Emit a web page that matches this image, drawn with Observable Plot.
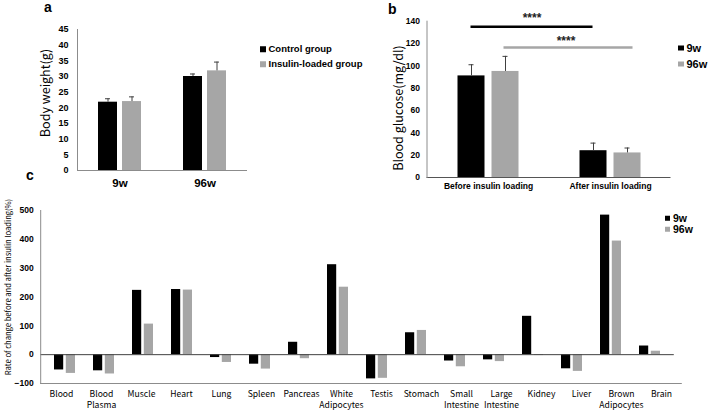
<!DOCTYPE html>
<html><head><meta charset="utf-8">
<script src="https://cdn.jsdelivr.net/npm/d3@7"></script>
<script src="https://cdn.jsdelivr.net/npm/@observablehq/plot@0.6"></script>
<style>
body{margin:0;background:#fff;}
#root{position:relative;width:708px;height:411px;overflow:hidden;background:#fff;font-family:"Liberation Sans",Arial,sans-serif;color:#000;}
.plot{position:absolute;}
.lbl{position:absolute;font-weight:bold;font-size:14px;line-height:1;}
.leg{position:absolute;display:flex;align-items:center;white-space:nowrap;font-weight:bold;line-height:1;transform:translateY(-50%);}
.sw{display:inline-block;margin-right:3px;}
.ytitle{position:absolute;white-space:nowrap;font-family:"Noto Sans CJK JP","Noto Sans",sans-serif;transform:translate(-50%,-50%) rotate(-90deg);line-height:1;}
</style></head><body><div id="root"></div>
<script>
// ---------- Panel a: body weight ----------
const weeks = ["9w", "96w"];
const bwControl = [21.8, 30.0];
const bwControlErr = [1.1, 0.8];
const bwInsulin = [22.0, 31.8];
const bwInsulinErr = [1.5, 2.8];
const bwTicks = [0, 5, 10, 15, 20, 25, 30, 35, 40, 45];
const groupsA = ["Control group", "Insulin-loaded group"];

// ---------- Panel b: blood glucose ----------
const phases = ["Before insulin loading", "After insulin loading"];
const bg9w = [91, 24];
const bg9wErr = [10, 6.8];
const bg96w = [95, 22];
const bg96wErr = [13.5, 4.4];
const bgTicks = [0, 20, 40, 60, 80, 100, 120, 140];
const sigLevels = [135, 116.5];
const sigLabels = ["****", "****"];
const seriesB = ["9w", "96w"];

// ---------- Panel c: rate of change ----------
const organs = ["Blood", "Blood Plasma", "Muscle", "Heart", "Lung", "Spleen", "Pancreas", "White Adipocytes", "Testis", "Stomach", "Small Intestine", "Large Intestine", "Kidney", "Liver", "Brown Adipocytes", "Brain"];
const organLabels = ["Blood", "Blood\nPlasma", "Muscle", "Heart", "Lung", "Spleen", "Pancreas", "White\nAdipocytes", "Testis", "Stomach", "Small\nIntestine", "Large\nIntestine", "Kidney", "Liver", "Brown\nAdipocytes", "Brain"];
const rate9w = [-53, -56, 223, 226, -10, -33, 43, 312, -84, 76, -22, -18, 133, -49, 484, 30];
const rate96w = [-65, -67, 106, 224, -27, -50, -14, 234, -82, 84, -42, -24, -3, -58, 394, 12];
const rateTicks = [-100, 0, 100, 200, 300, 400, 500];
const seriesC = ["9w", "96w"];

const BLACK = "#000000", GREY = "#a6a6a6", AXIS = "#8c8c8c", ERR = "#404040";
const tickFont = "Liberation Sans, Arial, sans-serif";
const root = document.getElementById("root");
function place(el, left, top) { el.classList.add("plot"); el.style.left = left + "px"; el.style.top = top + "px"; root.appendChild(el); }
const baseStyle = {background: "transparent", overflow: "visible", fontFamily: tickFont, color: "#000"};

// ---- Panel a ----
const aCtrl = weeks.map((w, i) => ({week: w, v: bwControl[i], e: bwControlErr[i]}));
const aIns = weeks.map((w, i) => ({week: w, v: bwInsulin[i], e: bwInsulinErr[i]}));
const plotA = Plot.plot({
  width: 260, height: 195, marginLeft: 77, marginRight: 13, marginTop: 29, marginBottom: 25,
  style: baseStyle,
  x: {type: "band", domain: weeks, padding: 0},
  y: {domain: [0, 45]},
  marks: [
    Plot.barY(aCtrl, {x: "week", y: "v", fill: BLACK, insetLeft: 21, insetRight: 45}),
    Plot.barY(aIns, {x: "week", y: "v", fill: GREY, insetLeft: 45, insetRight: 21}),
    Plot.ruleX(aCtrl, {x: "week", y1: "v", y2: d => d.v + d.e, dx: -12, stroke: ERR}),
    Plot.tickY(aCtrl, {x: "week", y: d => d.v + d.e, dx: -12, insetLeft: 40, insetRight: 40, stroke: ERR}),
    Plot.ruleX(aIns, {x: "week", y1: "v", y2: d => d.v + d.e, dx: 12, stroke: ERR}),
    Plot.tickY(aIns, {x: "week", y: d => d.v + d.e, dx: 12, insetLeft: 40, insetRight: 40, stroke: ERR}),
    Plot.ruleY([0], {stroke: AXIS}),
    Plot.frame({anchor: "left", stroke: AXIS}),
    Plot.axisY({ticks: bwTicks, tickSize: 0, tickPadding: 9, fontWeight: "bold", fontSize: 9, label: null}),
    Plot.axisX({tickSize: 0, tickPadding: 8, fontWeight: "bold", fontSize: 11.5, label: null})
  ]
});
place(plotA, 0, 0);

// ---- Panel b ----
const b9 = phases.map((p, i) => ({phase: p, v: bg9w[i], e: bg9wErr[i]}));
const b96 = phases.map((p, i) => ({phase: p, v: bg96w[i], e: bg96wErr[i]}));
const sig = sigLevels.map((y, i) => ({from: phases[0], to: phases[1], y, t: sigLabels[i]}));
const plotB = Plot.plot({
  width: 348, height: 195, marginLeft: 66.5, marginRight: 37.5, marginTop: 20.7, marginBottom: 18,
  style: baseStyle,
  x: {type: "band", domain: phases, padding: 0},
  y: {domain: [0, 140]},
  marks: [
    Plot.barY(b9, {x: "phase", y: "v", fill: BLACK, insetLeft: 30.5, insetRight: 64.5}),
    Plot.barY(b96, {x: "phase", y: "v", fill: GREY, insetLeft: 64.5, insetRight: 30.5}),
    Plot.ruleX(b9, {x: "phase", y1: "v", y2: d => d.v + d.e, dx: -17, stroke: ERR}),
    Plot.tickY(b9, {x: "phase", y: d => d.v + d.e, dx: -17, insetLeft: 58.5, insetRight: 58.5, stroke: ERR}),
    Plot.ruleX(b96, {x: "phase", y1: "v", y2: d => d.v + d.e, dx: 17, stroke: ERR}),
    Plot.tickY(b96, {x: "phase", y: d => d.v + d.e, dx: 17, insetLeft: 58.5, insetRight: 58.5, stroke: ERR}),
    Plot.ruleY([sig[0]], {x1: "from", x2: "to", y: "y", insetLeft: 43.5, insetRight: 78.5, stroke: BLACK, strokeWidth: 2.6}),
    Plot.ruleY([sig[1]], {x1: "from", x2: "to", y: "y", insetLeft: 76.5, insetRight: 38.5, stroke: GREY, strokeWidth: 2.6}),
    Plot.text([sig[0]], {x: "from", y: "y", text: "t", dx: 43.5, dy: -9, fontWeight: "bold", fontSize: 12, fill: "#222"}),
    Plot.text([sig[1]], {x: "from", y: "y", text: "t", dx: 77.5, dy: -6, fontWeight: "bold", fontSize: 12, fill: "#222"}),
    Plot.ruleY([0], {stroke: "#555"}),
    Plot.frame({anchor: "left", stroke: AXIS}),
    Plot.axisY({ticks: bgTicks, tickSize: 0, tickPadding: 7, fontWeight: "bold", fontSize: 8.5, label: null}),
    Plot.axisX({tickSize: 0, tickPadding: 5, fontWeight: "bold", fontSize: 8.5, label: null})
  ]
});
place(plotB, 360, 0);

// ---- Panel c ----
const c9 = organs.map((o, i) => ({organ: o, v: rate9w[i]}));
const c96 = organs.map((o, i) => ({organ: o, v: rate96w[i]}));
const plotC = Plot.plot({
  width: 708, height: 231, marginLeft: 40.2, marginRight: 34.2, marginTop: 30, marginBottom: 28,
  style: baseStyle,
  x: {type: "band", domain: organs, padding: 0},
  y: {domain: [-100, 500]},
  marks: [
    Plot.barY(c9, {x: "organ", y: "v", fill: BLACK, insetLeft: 9, insetRight: 20.8}),
    Plot.barY(c96, {x: "organ", y: "v", fill: GREY, insetLeft: 20.8, insetRight: 9}),
    Plot.ruleY([0], {stroke: "#404040"}),
    Plot.ruleY([-100], {stroke: AXIS, insetRight: -8}),
    Plot.frame({anchor: "left", stroke: AXIS}),
    Plot.axisY({ticks: rateTicks, tickSize: 0, tickPadding: 7, fontWeight: "bold", fontSize: 8.5, label: null}),
    Plot.axisX({ticks: [], label: null})
  ]
});
place(plotC, 0, 180);

// category labels of panel c (as in the reference, the label axis is slightly wider than the bar axis)
const labelOf = new Map(organs.map((o, i) => [o, organLabels[i]]));
const plotCLabels = Plot.plot({
  width: 708, height: 231, marginLeft: 36.7, marginRight: 22.7, marginTop: 30, marginBottom: 28,
  style: {...baseStyle, fontFamily: "Noto Sans CJK JP, Noto Sans, sans-serif"},
  x: {type: "band", domain: organs, padding: 0},
  marks: [
    Plot.axisX({tickSize: 0, tickPadding: 6, tickFormat: d => labelOf.get(d), fontSize: 8.6, lineHeight: 1.25, label: null})
  ]
});
place(plotCLabels, 0, 180);

// ---------- HTML text: panel letters, titles, legends ----------
function addDiv(cls, html, css) { const d = document.createElement("div"); d.className = cls; d.innerHTML = html; Object.assign(d.style, css); root.appendChild(d); return d; }
addDiv("lbl", "a", {left: "44px", top: "0px"});
addDiv("lbl", "b", {left: "388px", top: "2px"});
addDiv("lbl", "c", {left: "26px", top: "168px"});

addDiv("ytitle", "Body weight(g)", {left: "45px", top: "93px", fontSize: "12.5px"});
addDiv("ytitle", "Blood glucose(mg/dl)", {left: "398px", top: "108px", fontSize: "12.5px"});
addDiv("ytitle", "Rate of change before and after insulin loading(%)", {left: "8px", top: "287px", fontSize: "7.6px"});

function legend(items, colors, x, ys, size, sw) {
  items.forEach((t, i) => {
    addDiv("leg", `<span class="sw" style="width:${sw}px;height:${sw}px;background:${colors[i]}"></span><span>${t}</span>`,
      {left: x + "px", top: ys[i] + "px", fontSize: size + "px"});
  });
}
legend(groupsA, [BLACK, GREY], 260, [49, 64], 9.5, 5.5);
legend(seriesB, [BLACK, GREY], 678, [48, 64], 11, 5.5);
legend(seriesC, [BLACK, GREY], 665, [218, 229], 10.5, 5);
</script></body></html>
